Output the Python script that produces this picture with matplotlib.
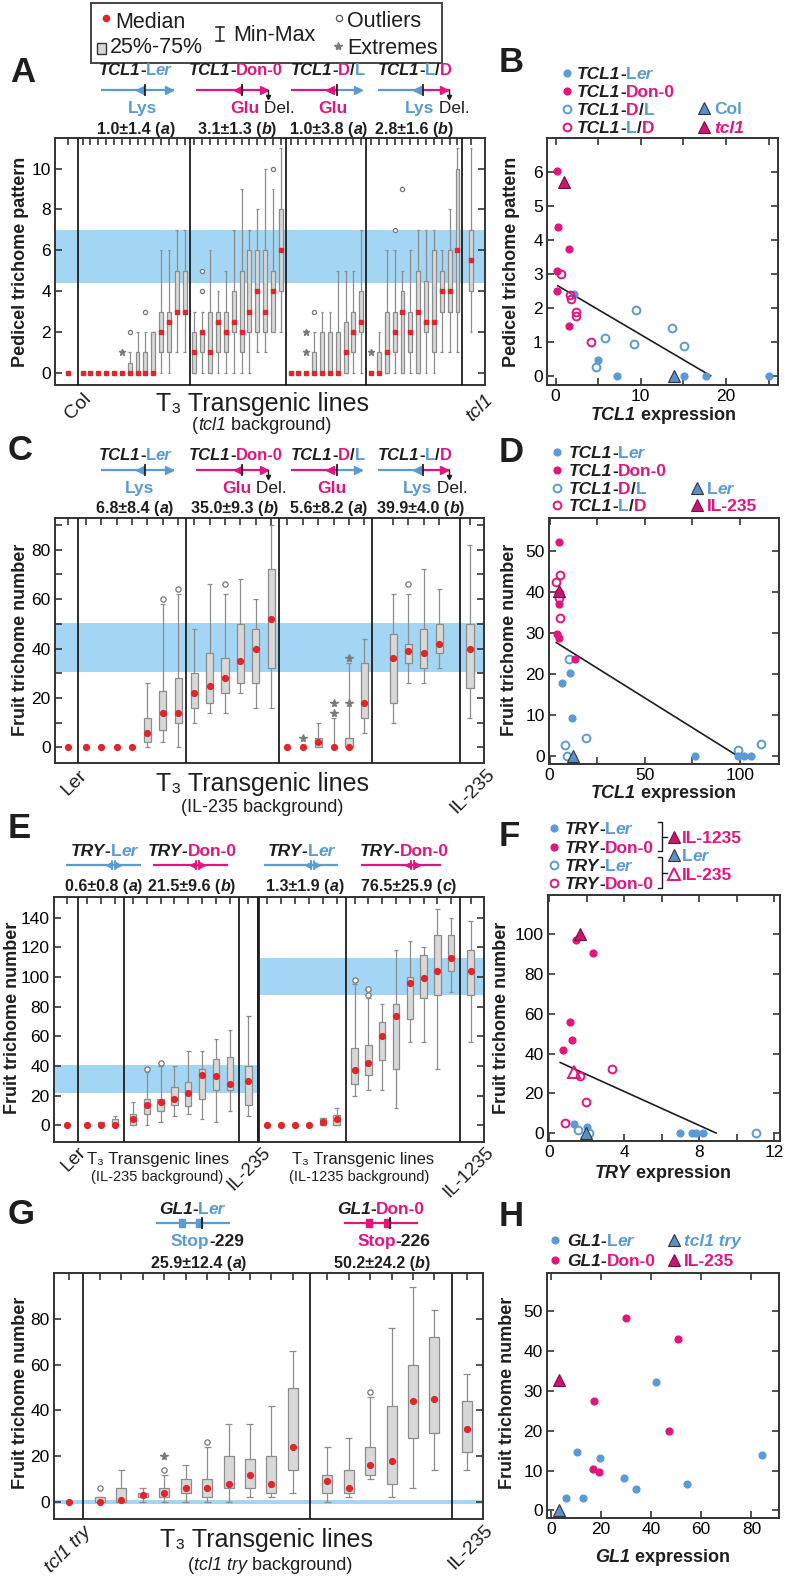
import matplotlib
matplotlib.use("Agg")
import matplotlib.pyplot as plt
from matplotlib.patches import Rectangle

plt.rcParams['font.family'] = ['Liberation Sans', 'DejaVu Sans']

# ---------------- DATA ----------------
# Panel A: pedicel trichome pattern (Col | TCL1-Ler | TCL1-Don-0 | TCL1-D/L | TCL1-L/D | tcl1)
A_groups = [1, 14, 12, 10, 12, 1]
A_med = [0,
         0, 0, 0, 0, 0, 0, 0, 0, 0, 0, 2, 2.5, 3, 3,
         1, 2, 1, 2.5, 2, 2.5, 2, 3, 4, 3, 4, 6,
         0, 0, 0, 0, 0, 0, 0, 1, 2, 2.5,
         0, 0, 1, 2, 3, 2, 3, 2.5, 2.5, 4, 4, 6,
         5.5]
A_q1 = [0,
        0, 0, 0, 0, 0, 0, 0, 0, 0, 0, 1, 1, 3, 3,
        0, 1, 0, 1, 1, 2, 1, 2, 2, 2, 2, 4,
        0, 0, 0, 0, 0, 0, 0, 0, 1, 2,
        0, 0, 0, 1, 0, 1, 0, 2, 1, 3, 3, 3,
        4]
A_q3 = [0,
        0, 0, 0, 0, 0, 0, 0.5, 1, 1, 2, 3, 3, 5, 5,
        2, 2, 3, 3, 3, 4, 5, 6, 6, 6, 5, 8,
        0, 0, 0, 1, 2, 2, 2, 2.5, 3, 4,
        0, 1, 3, 3, 4, 3, 5, 4.5, 6, 5, 6, 10,
        7]
A_lo = [0,
        0, 0, 0, 0, 0, 0, 0, 0, 0, 0, 0, 0, 1, 1,
        0, 0, 0, 0, 0, 0, 0, 0, 1, 1, 2, 2,
        0, 0, 0, 0, 0, 0, 0, 0, 0, 0,
        0, 0, 0, 0, 0, 0, 0, 0, 0, 1, 1, 1,
        2]
A_hi = [0,
        0, 0, 0, 0, 0, 0, 1, 2, 2, 2, 6, 6, 7, 7,
        3, 3, 6, 4, 5, 7, 9, 7, 8, 10, 9, 11,
        0, 0, 0, 2, 3, 3, 5, 5, 5, 7,
        0, 2, 6, 6, 5, 6, 7, 7, 7, 6, 8, 11,
        11]
A_out_i = [7, 9, 16, 16, 25, 30, 40, 41]
A_out_v = [2, 3, 4, 5, 10, 3, 7, 9]
A_ext_i = [6, 29, 29, 37]
A_ext_v = [1, 1, 2, 1]
A_band = [4.4, 7.0]

# Panel B: pedicel pattern vs TCL1 expression
B_ler_x = [5.0, 7.2, 15.1, 17.7, 25.0, 2.2]
B_ler_y = [0.46, 0, 0, 0, 0, 2.4]
B_don_x = [0.16, 0.3, 1.6, 0.23, 0.16, 1.6]
B_don_y = [6.04, 4.37, 3.74, 3.09, 2.49, 1.48]
B_dl_x = [4.7, 5.8, 9.2, 9.45, 13.7, 15.1]
B_dl_y = [0.27, 1.1, 0.93, 1.94, 1.42, 0.87]
B_ld_x = [0.6, 1.7, 1.84, 2.4, 2.4, 4.2]
B_ld_y = [2.99, 2.39, 2.27, 1.87, 1.77, 0.99]
B_ctrl_blue = (13.9, 0.0)   # Col
B_ctrl_pink = (1.05, 5.7)   # tcl1
B_fit_x = [0.27, 18.2]
B_fit_y = [2.65, 0.0]
B_stats = ["<0.001", "0.41", "24"]

# Panel C: fruit trichome number (Ler | 4 constructs | IL-235)
C_groups = [1, 7, 6, 6, 4, 1]
C_med = [0, 0, 0, 0, 0, 6, 14, 14, 22, 25, 28, 35, 40, 52, 0, 0, 2, 0, 0, 18, 36, 39, 38, 42, 40]
C_q1 = [0, 0, 0, 0, 0, 2, 7, 10, 16, 18, 22, 26, 26, 32, 0, 0, 0, 0, 0, 12, 18, 34, 32, 38, 24]
C_q3 = [0, 0, 0, 0, 0, 12, 23, 28, 30, 38, 36, 50, 48, 72, 0, 0, 4, 0, 4, 34, 46, 42, 48, 50, 50]
C_lo = [0, 0, 0, 0, 0, 0, 2, 0, 10, 14, 14, 22, 16, 16, 0, 0, 0, 0, 0, 6, 10, 26, 26, 32, 12]
C_hi = [0, 0, 0, 0, 0, 26, 58, 62, 48, 66, 62, 68, 60, 90, 0, 0, 10, 12, 34, 44, 62, 62, 72, 64, 82]
C_out_i = [6, 7, 10, 21]
C_out_v = [60, 64, 66, 66]
C_ext_i = [15, 17, 17, 18, 18]
C_ext_v = [4, 14, 18, 18, 36]
C_band = [30.7, 50.5]

# Panel D
D_ler_x = [10.5, 6.6, 11.7, 76.4, 98.8, 102, 106]
D_ler_y = [20.3, 17.9, 9.4, 0, 0, 0, 0]
D_don_x = [4.7, 4.9, 4.0, 4.7, 13.1]
D_don_y = [52.3, 37.2, 29.9, 28.7, 23.6]
D_dl_x = [10, 8.2, 9.3, 18.9, 99, 111]
D_dl_y = [23.7, 2.7, 0, 4.5, 1.5, 2.9]
D_ld_x = [3.5, 5.6, 4.9, 4.7, 5.6]
D_ld_y = [42.4, 44.3, 39.7, 38.5, 33.7]
D_ctrl_blue = (12.2, 0.0)   # Ler
D_ctrl_pink = (4.9, 40.3)   # IL-235
D_fit_x = [3.5, 98.8]
D_fit_y = [27.7, 0.0]
D_stats = ["<0.001", "0.45", "23"]

# Panel E: TRY constructs in two backgrounds
E_groups = [1, 3, 8, 1, 6, 8, 1]
E_med = [0, 0, 0, 0.5, 4, 14, 16, 18, 22, 34, 33, 28, 30,
         0, 0, 0, 0, 2, 4, 37, 42, 60, 74, 96, 99, 104, 113, 104]
E_q1 = [0, 0, 0, 0, 0, 8, 10, 14, 13, 18, 24, 24, 14,
        0, 0, 0, 0, 0, 0, 28, 34, 44, 38, 72, 86, 88, 104, 88]
E_q3 = [0, 0, 2, 4, 8, 18, 18, 26, 29, 38, 45, 46, 40,
        0, 0, 0, 0, 5, 7, 52, 54, 70, 82, 100, 115, 128, 128, 118]
E_lo = [0, 0, 0, 0, 0, 0, 2, 6, 8, 4, 2, 10, 6,
        0, 0, 0, 0, 0, 0, 20, 24, 24, 12, 56, 56, 38, 90, 56]
E_hi = [0, 0, 2, 6, 16, 36, 40, 40, 50, 50, 58, 64, 74,
        0, 0, 0, 0, 5, 12, 95, 86, 82, 118, 124, 120, 146, 140, 138]
E_out_i = [5, 6, 19, 20, 20]
E_out_v = [38, 42, 98, 88, 92]
E_band1 = [21.8, 40.9]
E_band2 = [88, 113]

# Panel F
F_ler_x = [1.35, 2.0, 7.0, 7.6, 7.84, 8.2]
F_ler_y = [4.7, 3, 0, 0, 0, 0]
F_don_x = [1.43, 2.32, 1.12, 1.24, 0.73]
F_don_y = [97.1, 90.4, 56, 46.7, 42]
F_ler2_x = [1.56, 2.14, 11.0]
F_ler2_y = [1.3, 0, 0]
F_don2_x = [0.85, 1.65, 1.96, 3.38]
F_don2_y = [5, 28.6, 15.6, 32.4]
F_il1235 = (1.65, 100.2)
F_ler_ctrl = (1.95, 0.0)
F_il235 = (1.33, 30.8)
F_fit_x = [0.6, 8.9]
F_fit_y = [35.5, 0.0]
F_stats = ["=0.06", "0.16", "18"]

# Panel G: GL1 constructs
G_groups = [1, 10, 6, 1]
G_med = [0, 0, 1, 3, 4, 6, 6, 8, 12, 8, 24, 9, 6, 16, 18, 44, 45, 32]
G_q1 = [0, 0, 0, 2, 2, 4, 2, 6, 6, 4, 14, 4, 4, 12, 8, 28, 30, 22]
G_q3 = [0, 2, 6, 4, 6, 10, 10, 20, 19, 20, 50, 12, 14, 24, 42, 60, 72, 44]
G_lo = [0, 0, 0, 0, 0, 0, 0, 0, 2, 2, 4, 0, 2, 10, 2, 6, 14, 14]
G_hi = [0, 2, 14, 6, 12, 16, 24, 34, 34, 42, 66, 24, 28, 46, 76, 94, 84, 56]
G_out_i = [1, 4, 6, 13]
G_out_v = [6, 14, 26, 48]
G_ext_i = [4]
G_ext_v = [20]
G_band = [-0.7, 0.7]

# Panel H
H_ler_x = [10.5, 19.5, 42.1, 6, 12.9, 29.1, 34.1, 54.4, 84.3]
H_ler_y = [14.7, 13.1, 32.1, 3.2, 3.2, 8.1, 5.4, 6.5, 13.8]
H_don_x = [30.1, 50.7, 17.4, 47.1, 16.9, 19.3]
H_don_y = [48.3, 42.9, 27.4, 19.9, 10.5, 9.6]
H_ctrl_blue = (3.1, 0.0)   # tcl1 try
H_ctrl_pink = (3.1, 32.8)  # IL-235
H_stats = ["=0.40", "0.00", "15"]

A_means = ["1.0±1.4 (", "3.1±1.3 (", "1.0±3.8 (", "2.8±1.6 ("]
A_letters = ["a", "b", "a", "b"]
C_means = ["6.8±8.4 (", "35.0±9.3 (", "5.6±8.2 (", "39.9±4.0 ("]
C_letters = ["a", "b", "a", "b"]
E_means = ["0.6±0.8 (", "21.5±9.6 (", "1.3±1.9 (", "76.5±25.9 ("]
E_letters = ["a", "b", "a", "c"]
G_means = ["25.9±12.4 (", "50.2±24.2 ("]
G_letters = ["a", "b"]

# ---------------- STYLE ----------------
W, H = 785, 1581
BLUE = '#5b9bd5'
PINK = '#e2157e'
TRI_BLUE = '#5a8fcc'
TRI_PINK = '#c8176f'
RED = '#e0262b'
BAND = '#a3d6f4'
K = '#1e1e1e'
WG = '#8c8c8c'
BOXF = '#d8d8d8'

fig = plt.figure(figsize=(W / 100, H / 100), dpi=100)
fig.patch.set_facecolor('white')
renderer = fig.canvas.get_renderer()

ax0 = fig.add_axes([0, 0, 1, 1])
ax0.set_xlim(0, W)
ax0.set_ylim(H, 0)
ax0.axis('off')


def P(s, c=K, b=True, i=False):
    return (s, c, 'bold' if b else 'normal', 'italic' if i else 'normal')


def rich(x, y, parts, fs=12, ha='left', va='center_baseline'):
    texts, ws = [], []
    for s, c, wt, st in parts:
        t = ax0.text(0, y, s, color=c, fontsize=fs, fontweight=wt, fontstyle=st,
                     va=va, ha='left')
        ws.append(t.get_window_extent(renderer).width)
        texts.append(t)
    tot = sum(ws)
    start = x - tot / 2 if ha == 'center' else (x - tot if ha == 'right' else x)
    cur = start
    for t, w in zip(texts, ws):
        t.set_x(cur)
        cur += w
    return start, tot


def add_axes_px(l, t, r, b):
    return fig.add_axes([l / W, 1 - b / H, (r - l) / W, (b - t) / H])


def style_spines(ax):
    for s in ax.spines.values():
        s.set_linewidth(1.4)
        s.set_color('#333333')


def layout(groups, pads):
    pos, seps, cur = [], [], 0.0
    for n, (pl, pr) in zip(groups, pads):
        start = cur + pl
        pos += [start + k for k in range(n)]
        cur = start + (n - 1) + pr
        seps.append(cur)
    return pos, seps[:-1], cur


def box_panel(rect, groups, pads, med, q1, q3, lo, hi, out_i, out_v, ext_i, ext_v,
              ylim, yticks, yminor=None, medms=4.2, medmarker='o', bw=0.46, outms=3.8):
    ax = add_axes_px(*rect)
    pos, seps, xmax = layout(groups, pads)
    ax.set_xlim(0, xmax)
    ax.set_ylim(*ylim)
    capw = bw * 0.7
    for i, x in enumerate(pos):
        if hi[i] > lo[i]:
            ax.vlines(x, lo[i], hi[i], color=WG, lw=0.9, zorder=2)
            ax.hlines([lo[i], hi[i]], x - capw / 2, x + capw / 2, color=WG, lw=0.9, zorder=2)
        if q3[i] > q1[i]:
            ax.add_patch(Rectangle((x - bw / 2, q1[i]), bw, q3[i] - q1[i], fc=BOXF,
                                   ec=WG, lw=0.9, zorder=3))
    ax.plot(pos, med, ls='none', marker=medmarker, ms=medms, color=RED, mec=RED, zorder=5)
    ax.plot([pos[i] for i in out_i], out_v, ls='none', marker='o', ms=outms, mfc='white',
            mec='#777777', mew=0.9, zorder=5)
    if ext_i:
        ax.plot([pos[i] for i in ext_i], ext_v, ls='none', marker='*', ms=outms + 2,
                color='#7a7a7a', zorder=5)
    for s in seps:
        ax.axvline(s, color=K, lw=1.3, zorder=4)
    ax.set_xticks(pos)
    ax.tick_params(axis='x', which='both', top=True, bottom=False, labelbottom=False,
                   direction='in', length=5, width=1.2, color='#333333')
    ax.set_yticks(yticks)
    if yminor is not None:
        ax.set_yticks(yminor, minor=True)
    ax.tick_params(axis='y', which='both', left=True, right=True, direction='in',
                   length=5, width=1.2, labelsize=12.5, color='#333333', pad=3)
    style_spines(ax)
    return ax, pos, seps, xmax


def scatter_style(ax, xlim, ylim, xt, xminor, yt):
    ax.set_xlim(*xlim)
    ax.set_ylim(*ylim)
    ax.set_xticks(xt)
    ax.set_xticks(xminor, minor=True)
    ax.set_yticks(yt)
    ax.tick_params(which='both', direction='in', top=True, right=True, length=5,
                   width=1.2, labelsize=12.5, color='#333333', pad=3)
    style_spines(ax)


def fdot(ax, x, y, c):
    ax.plot(x, y, ls='none', marker='o', ms=4.9, color=c, mec=c, zorder=4)


def odot(ax, x, y, c):
    ax.plot(x, y, ls='none', marker='o', ms=5.6, mfc='none', mec=c, mew=1.4, zorder=4)


def tri(ax, xy, c, filled=True):
    if filled:
        ax.plot([xy[0]], [xy[1]], ls='none', marker='^', ms=8, color=c,
                mec='#333333' if c == TRI_BLUE else '#7a0c43', mew=0.8, zorder=5)
    else:
        ax.plot([xy[0]], [xy[1]], ls='none', marker='^', ms=8, mfc='none', mec=PINK,
                mew=1.4, zorder=5)


def stats_box(l, t, r, b, rows, stats):
    ax0.add_patch(Rectangle((l, t), r - l, b - t, fc='white', ec='#555555', lw=1.1, zorder=3))
    cx = (l + r) / 2
    rich(cx, rows[0], [P('P', '#333333', False, True), P(stats[0], '#333333', False)], fs=11, ha='center')
    rich(cx, rows[1], [P('R', '#333333', False, True), P('²= ' + stats[1], '#333333', False)], fs=11, ha='center')
    rich(cx, rows[2], [P('N', '#333333', False, True), P('=' + stats[2], '#333333', False)], fs=11, ha='center')


def leg_marker(x, y, kind, c):
    if kind == 'f':
        ax0.plot([x], [y], ls='none', marker='o', ms=4.9, color=c)
    elif kind == 'o':
        ax0.plot([x], [y], ls='none', marker='o', ms=5.6, mfc='none', mec=c, mew=1.4)
    elif kind == 't':
        ax0.plot([x], [y], ls='none', marker='^', ms=8, color=c,
                 mec='#333333' if c == TRI_BLUE else '#7a0c43', mew=0.8)
    else:
        ax0.plot([x], [y], ls='none', marker='^', ms=8, mfc='none', mec=PINK, mew=1.4)


def ylab(x, y, s):
    ax0.text(x, y, s, rotation=90, ha='center', va='center', fontsize=13, fontweight='bold', color=K)


def rot_label(x, y, parts, fs=14):
    # rotated 45 deg; (x, y) = upper right end
    txt = ''.join(p[0] for p in parts)
    ax0.text(x, y, txt, rotation=45, ha='right', va='top', rotation_mode='anchor',
             fontsize=fs, fontstyle=parts[0][3], color=K)


def letter(x, y, s):
    ax0.text(x, y + 12.5, s, fontsize=25, fontweight='bold', ha='left', va='baseline', color=K)


def gene_line(segs, y, heads, bars, flags=()):
    for x0, x1, c in segs:
        ax0.plot([x0, x1], [y, y], color=c, lw=1.6, solid_capstyle='butt')
    for x, m, c in heads:
        ax0.plot([x], [y], marker=m, ms=6, color=c, mec=c)
    for x in bars:
        ax0.plot([x, x], [y - 5, y + 5], color=K, lw=1.3)
    for x in flags:
        ax0.plot([x, x], [y, y + 7], color=K, lw=1.0)
        ax0.plot([x], [y + 7], marker='v', ms=3, color=K)


def ler(b=True):
    return [P('L', BLUE, b), P('er', BLUE, b, True)]


# ---------------- TOP LEGEND BOX ----------------
ax0.add_patch(Rectangle((91, 3), 351, 60, fc='white', ec='#444444', lw=1.4))
ax0.plot([106], [18], marker='o', ms=4.5, color=RED, ls='none')
ax0.text(115, 20, 'Median', fontsize=15.5, va='center_baseline', color=K)
ax0.add_patch(Rectangle((97, 43), 9, 11, fc=BOXF, ec='#333333', lw=1.0))
ax0.text(110, 45, '25%-75%', fontsize=15.5, va='center_baseline', color=K)
ax0.plot([220, 220], [27, 41], color=K, lw=1.1)
ax0.plot([216, 224], [27, 27], color=K, lw=1.1)
ax0.plot([216, 224], [41, 41], color=K, lw=1.1)
ax0.text(233, 33, 'Min-Max', fontsize=15.5, va='center_baseline', color=K)
ax0.plot([339], [18], marker='o', ms=4.5, mfc='white', mec='#555555', mew=0.9, ls='none')
ax0.text(347, 19, 'Outliers', fontsize=15.5, va='center_baseline', color=K)
ax0.plot([338], [46], marker='*', ms=6, color='#7a7a7a', ls='none')
ax0.text(347, 46, 'Extremes', fontsize=15.5, va='center_baseline', color=K)

# ---------------- PANEL A ----------------
letter(10, 70, 'A')
name_x = [135, 236, 328, 415]
names_tcl = [
    [P('TCL1', K, True, True), P('-')] + ler(),
    [P('TCL1', K, True, True), P('-'), P('Don-0', PINK)],
    [P('TCL1', K, True, True), P('-'), P('D', PINK), P('/'), P('L', BLUE)],
    [P('TCL1', K, True, True), P('-'), P('L', BLUE), P('/'), P('D', PINK)],
]


def tcl_header(ny, ay, sy, my, means, letters, sub_x, mean_x):
    for x, parts in zip(name_x, names_tcl):
        rich(x, ny, parts, fs=12, ha='center')
    gene_line([(101, 174, BLUE)], ay, [(140, '<', BLUE), (169, '>', BLUE)], [145])
    gene_line([(196, 268, PINK)], ay, [(238, '<', PINK), (264, '>', PINK)], [242], [268])
    gene_line([(291, 337, PINK), (337, 362, BLUE)], ay, [(330, '<', PINK), (358, '>', BLUE)], [337])
    gene_line([(378, 422, BLUE), (422, 450, PINK)], ay, [(417, '<', BLUE), (444, '>', PINK)], [423], [449])
    rich(sub_x[0], sy, [P('Lys', BLUE)], fs=12.5)
    rich(sub_x[1], sy, [P('Glu', PINK), P(' Del.', K, False)], fs=12.5)
    rich(sub_x[2], sy, [P('Glu', PINK)], fs=12.5)
    rich(sub_x[3], sy, [P('Lys', BLUE), P(' Del.', K, False)], fs=12.5)
    for x, m, l in zip(mean_x, means, letters):
        rich(x, my, [P(m), P(l, K, True, True), P(')')], fs=11.5, ha='center')


tcl_header(69, 90, 107, 128, A_means, A_letters, [128, 230, 318, 405], [136, 237, 329, 414])

axA, posA, sepsA, xmA = box_panel((55, 138, 485, 385), A_groups,
                                  [(1.69, 1.19), (0.62, 0.62), (0.62, 0.62), (0.62, 0.62), (0.62, 0.62), (1.1, 1.78)],
                                  A_med, A_q1, A_q3, A_lo, A_hi, A_out_i, A_out_v, A_ext_i, A_ext_v,
                                  (-0.6, 11.5), [0, 2, 4, 6, 8, 10], medms=2.6, medmarker='s', bw=0.5, outms=3)
axA.axhspan(A_band[0], A_band[1], color=BAND, zorder=0, lw=0)
ylab(21, 262, 'Pedicel trichome pattern')
rot_label(82, 390, [P('Col', K, False)])
rot_label(484, 391, [P('tcl1', K, False, True)])
ax0.text(262, 402, 'T₃ Transgenic lines', fontsize=18, ha='center', va='center_baseline', color=K)
rich(262, 424, [P('(', K, False), P('tcl1', K, False, True), P(' background)', K, False)], fs=13, ha='center')

# ---------------- PANEL B ----------------
letter(499, 60, 'B')
axB = add_axes_px(547, 138, 778, 385)
scatter_style(axB, (-1.0, 26.1), (-0.27, 7.0), [0, 10, 20], [5, 15, 25], range(0, 7))
axB.plot(B_fit_x, B_fit_y, color=K, lw=1.2, zorder=3)
fdot(axB, B_ler_x, B_ler_y, BLUE)
odot(axB, B_dl_x, B_dl_y, BLUE)
fdot(axB, B_don_x, B_don_y, PINK)
odot(axB, B_ld_x, B_ld_y, PINK)
tri(axB, B_ctrl_blue, TRI_BLUE)
tri(axB, B_ctrl_pink, TRI_PINK)
stats_box(706, 149, 768, 204, [159, 177, 195], B_stats)
ylab(512, 262, 'Pedicel trichome pattern')
rich(663, 414, [P('TCL1', K, True, True), P(' expression')], fs=13, ha='center')
leg_rows_B = [73, 91, 109, 127]
for y, k, c, parts in zip(leg_rows_B, ['f', 'f', 'o', 'o'], [BLUE, PINK, BLUE, PINK], names_tcl):
    leg_marker(567, y, k, c)
    rich(577, y, parts, fs=12.5)
leg_marker(704, 108, 't', TRI_BLUE)
rich(714, 108, [P('Col', BLUE)], fs=12.5)
leg_marker(704, 127, 't', TRI_PINK)
rich(714, 127, [P('tcl1', PINK, True, True)], fs=12.5)

# ---------------- PANEL C ----------------
letter(8, 447, 'C')
tcl_header(454, 470, 487, 507, C_means, C_letters, [125, 222, 317, 403], [135, 235, 329, 421])
axC, posC, sepsC, xmC = box_panel((55, 518, 484, 763), C_groups,
                                  [(0.82, 0.65), (0.52, 0.52), (0.52, 0.52), (0.52, 0.52), (1.34, 1.34), (0.65, 0.91)],
                                  C_med, C_q1, C_q3, C_lo, C_hi, C_out_i, C_out_v, C_ext_i, C_ext_v,
                                  (-6.3, 92.8), [0, 20, 40, 60, 80], yminor=list(range(0, 91, 10)))
axC.axhspan(C_band[0], C_band[1], color=BAND, zorder=0, lw=0)
ylab(21, 640, 'Fruit trichome number')
rot_label(78, 767, [P('Ler', K, False)])
rot_label(486, 766, [P('IL-235', K, False)])
ax0.text(262, 782, 'T₃ Transgenic lines', fontsize=18, ha='center', va='center_baseline', color=K)
ax0.text(262, 806, '(IL-235 background)', fontsize=13, ha='center', va='center_baseline', color=K)

# ---------------- PANEL D ----------------
letter(499, 450, 'D')
axD = add_axes_px(549, 518, 779, 764)
scatter_style(axD, (-0.3, 120.5), (-1.95, 58.1), [0, 50, 100], [25, 75], range(0, 51, 10))
axD.plot(D_fit_x, D_fit_y, color=K, lw=1.2, zorder=3)
fdot(axD, D_ler_x, D_ler_y, BLUE)
odot(axD, D_dl_x, D_dl_y, BLUE)
fdot(axD, D_don_x, D_don_y, PINK)
odot(axD, D_ld_x, D_ld_y, PINK)
tri(axD, D_ctrl_blue, TRI_BLUE)
tri(axD, D_ctrl_pink, TRI_PINK)
stats_box(708, 523, 769, 583, [538, 557, 576], D_stats)
ylab(510, 640, 'Fruit trichome number')
rich(663, 791, [P('TCL1', K, True, True), P(' expression')], fs=13, ha='center')
leg_rows_D = [452, 470, 488, 505]
for y, k, c, parts in zip(leg_rows_D, ['f', 'f', 'o', 'o'], [BLUE, PINK, BLUE, PINK], names_tcl):
    leg_marker(557, y, k, c)
    rich(569, y, parts, fs=12.5)
leg_marker(697, 488, 't', TRI_BLUE)
rich(707, 488, ler(), fs=12.5)
leg_marker(697, 505, 't', TRI_PINK)
rich(707, 505, [P('IL-235', PINK)], fs=12.5)

# ---------------- PANEL E ----------------
letter(8, 825, 'E')
try_names = [[P('TRY', K, True, True), P('-')] + ler(),
             [P('TRY', K, True, True), P('-'), P('Don-0', PINK)]]
for x, parts in zip([104, 192, 301, 404], try_names * 2):
    rich(x, 850, parts, fs=12.5, ha='center')
for (x0, x1, m), c in zip([(67, 140, 113), (154, 227, 197), (265, 337, 312), (362, 440, 412)],
                          [BLUE, PINK, BLUE, PINK]):
    ax0.plot([x0, x1], [865, 865], color=c, lw=1.6)
    ax0.plot([m - 4], [865], marker='<', ms=5, color=c)
    ax0.plot([m - 1, m - 1], [861, 869], color=c, lw=1.3)
    ax0.plot([m + 2, m + 2], [861, 869], color=c, lw=1.3)
    ax0.plot([m + 5], [865], marker='>', ms=5, color=c)
for x, m, l in zip([104, 192, 305, 409], E_means, E_letters):
    rich(x, 885, [P(m), P(l, K, True, True), P(')')], fs=11.5, ha='center')

axE, posE, sepsE, xmE = box_panel((54, 897, 484, 1142), E_groups,
                                  [(0.97, 0.8), (0.65, 0.65), (0.65, 0.65), (0.7, 0.73), (0.65, 0.65), (0.65, 0.65), (0.75, 0.97)],
                                  E_med, E_q1, E_q3, E_lo, E_hi, E_out_i, E_out_v, [], [],
                                  (-11.2, 153.9), list(range(0, 141, 20)))
fr = sepsE[3] / xmE
axE.axhspan(E_band1[0], E_band1[1], xmin=0, xmax=fr, color=BAND, zorder=0, lw=0)
axE.axhspan(E_band2[0], E_band2[1], xmin=fr, xmax=1, color=BAND, zorder=0, lw=0)
axE.axvline(sepsE[3], color=K, lw=2.0, zorder=4)
ylab(13, 1018, 'Fruit trichome number')
rot_label(77, 1144, [P('Ler', K, False)], fs=13.5)
rot_label(262, 1144, [P('IL-235', K, False)], fs=13.5)
rot_label(485, 1144, [P('IL-1235', K, False)], fs=13.5)
ax0.text(158, 1158, 'T₃ Transgenic lines', fontsize=12, ha='center', va='center_baseline', color=K)
ax0.text(157, 1175, '(IL-235 background)', fontsize=10.5, ha='center', va='center_baseline', color=K)
ax0.text(363, 1158, 'T₃ Transgenic lines', fontsize=12, ha='center', va='center_baseline', color=K)
ax0.text(359, 1175, '(IL-1235 background)', fontsize=10.5, ha='center', va='center_baseline', color=K)

# ---------------- PANEL F ----------------
letter(499, 834, 'F')
axF = add_axes_px(548, 895, 780, 1141)
scatter_style(axF, (-0.05, 12.3), (-4, 119.8), [0, 4, 8, 12], [2, 6, 10], range(0, 101, 20))
axF.plot(F_fit_x, F_fit_y, color=K, lw=1.2, zorder=3)
fdot(axF, F_ler_x, F_ler_y, BLUE)
odot(axF, F_ler2_x, F_ler2_y, BLUE)
fdot(axF, F_don_x, F_don_y, PINK)
odot(axF, F_don2_x, F_don2_y, PINK)
tri(axF, F_il1235, TRI_PINK)
tri(axF, F_ler_ctrl, TRI_BLUE)
tri(axF, F_il235, PINK, filled=False)
stats_box(707, 900, 769, 960, [915, 933, 952], F_stats)
ylab(502, 1018, 'Fruit trichome number')
rich(663, 1171, [P('TRY', K, True, True), P(' expression')], fs=13, ha='center')
leg_rows_F = [828, 847, 865, 883]
for y, k, c, parts in zip(leg_rows_F, ['f', 'f', 'o', 'o'], [BLUE, PINK, BLUE, PINK], try_names * 2):
    leg_marker(554, y, k, c)
    rich(565, y, parts, fs=12.5)
for y0, y1 in [(822, 851), (857, 888)]:
    ax0.plot([658, 662, 662, 658], [y0, y0, y1, y1], color=K, lw=1.0)
    ax0.plot([662, 667], [(y0 + y1) / 2, (y0 + y1) / 2], color=K, lw=1.0)
leg_marker(674, 837, 't', TRI_PINK)
rich(682, 837, [P('IL-1235', PINK)], fs=12.5)
leg_marker(674, 855, 't', TRI_BLUE)
rich(682, 855, ler(), fs=12.5)
leg_marker(674, 874, 'to', PINK)
rich(682, 874, [P('IL-235', PINK)], fs=12.5)

# ---------------- PANEL G ----------------
letter(8, 1212, 'G')
rich(192, 1208, [P('GL1', K, True, True), P('-')] + ler(), fs=12.5, ha='center')
rich(381, 1208, [P('GL1', K, True, True), P('-'), P('Don-0', PINK)], fs=12.5, ha='center')
for (x0, x1, m1, m2, tk), c in zip([(157, 229, 182, 199, 202), (345, 417, 369, 387, 390)], [BLUE, PINK]):
    ax0.plot([x0, x1], [1223, 1223], color=c, lw=1.6)
    ax0.add_patch(Rectangle((m1 - 3, 1219), 6, 8, fc=c, ec=c))
    ax0.add_patch(Rectangle((m2 - 3, 1219), 6, 8, fc=c, ec=c))
    ax0.plot([tk, tk], [1218, 1228], color=K, lw=1.3)
rich(207, 1240, [P('Stop', BLUE), P('-229')], fs=12.5, ha='center')
rich(394, 1240, [P('Stop', PINK), P('-226')], fs=12.5, ha='center')
for x, m, l in zip([199, 382], G_means, G_letters):
    rich(x, 1262, [P(m), P(l, K, True, True), P(')')], fs=11.5, ha='center')

axG, posG, sepsG, xmG = box_panel((54, 1273, 483, 1519), G_groups,
                                  [(0.68, 0.69), (0.78, 0.8), (0.81, 0.82), (0.7, 0.75)],
                                  G_med, G_q1, G_q3, G_lo, G_hi, G_out_i, G_out_v, G_ext_i, G_ext_v,
                                  (-7.4, 100), [0, 20, 40, 60, 80], bw=0.47)
axG.axhspan(G_band[0], G_band[1], color=BAND, zorder=0, lw=0)
ylab(21, 1393, 'Fruit trichome number')
rot_label(83, 1523, [P('tcl1 try', K, False, True)])
rot_label(484, 1522, [P('IL-235', K, False)])
ax0.text(267, 1538, 'T₃ Transgenic lines', fontsize=18, ha='center', va='center_baseline', color=K)
rich(270, 1563, [P('(', K, False), P('tcl1 try', K, False, True), P(' background)', K, False)], fs=13, ha='center')

# ---------------- PANEL H ----------------
letter(499, 1213, 'H')
axH = add_axes_px(547, 1273, 779, 1518)
scatter_style(axH, (-1.5, 91), (-1.9, 59.5), [0, 20, 40, 60, 80], [], range(0, 51, 10))
fdot(axH, H_ler_x, H_ler_y, BLUE)
fdot(axH, H_don_x, H_don_y, PINK)
tri(axH, H_ctrl_blue, TRI_BLUE)
tri(axH, H_ctrl_pink, TRI_PINK)
stats_box(706, 1280, 768, 1336, [1293, 1310, 1328], H_stats)
ylab(507, 1393, 'Fruit trichome number')
rich(663, 1555, [P('GL1', K, True, True), P(' expression')], fs=13, ha='center')
leg_marker(555, 1240, 'f', BLUE)
rich(567, 1240, [P('GL1', K, True, True), P('-')] + ler(), fs=12.5)
leg_marker(555, 1260, 'f', PINK)
rich(567, 1260, [P('GL1', K, True, True), P('-'), P('Don-0', PINK)], fs=12.5)
leg_marker(674, 1240, 't', TRI_BLUE)
rich(684, 1240, [P('tcl1 try', BLUE, True, True)], fs=12.5)
leg_marker(674, 1260, 't', TRI_PINK)
rich(684, 1260, [P('IL-235', PINK)], fs=12.5)

fig.savefig('out.png', dpi=100, facecolor='white')
